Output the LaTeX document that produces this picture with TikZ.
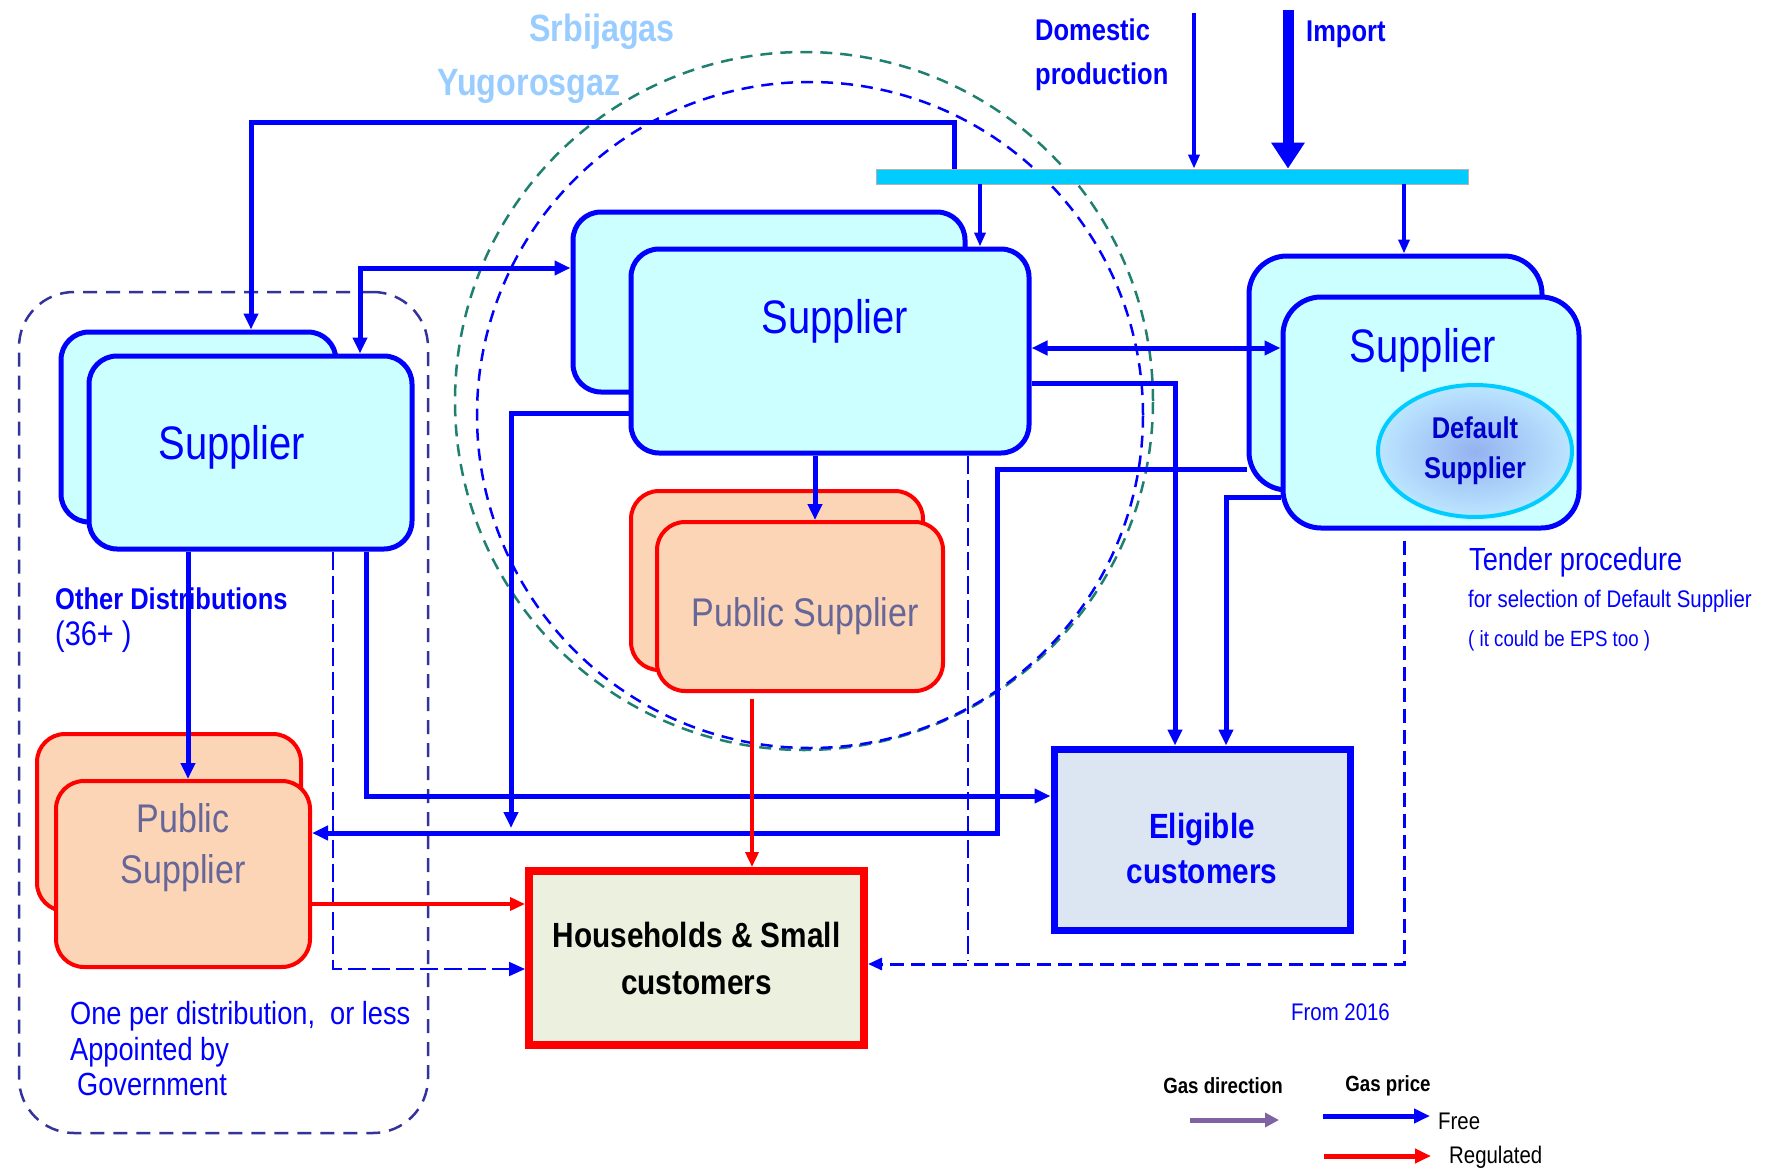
\documentclass[tikz,border=0pt]{standalone}
\usepackage{fontspec}
\setmainfont{Liberation Sans}[FakeStretch=0.85]
\usepackage{tikz}
\usetikzlibrary{arrows.meta,shapes.geometric}
\definecolor{supfill}{HTML}{CCFFFF}
\definecolor{pubfill}{HTML}{FBD5B5}
\definecolor{pubtext}{HTML}{666699}
\definecolor{hhfill}{HTML}{EBF1DE}
\definecolor{elfill}{HTML}{DCE6F2}
\definecolor{barcyan}{HTML}{00CCFF}
\definecolor{lightname}{HTML}{99CCFF}
\definecolor{framecol}{HTML}{333399}
\definecolor{ringgreen}{HTML}{1F8070}
\definecolor{legpurple}{HTML}{8064A2}
\definecolor{dsinner}{HTML}{94B2F0}
\definecolor{dsouter}{HTML}{BCE6FF}
\definecolor{dstext}{HTML}{0000CC}
\newcommand{\fsz}[2]{\fontsize{#1}{#2}\selectfont}
\tikzset{
    supbox/.style={draw=blue, line width=5pt, fill=supfill, rounded corners=28pt, inner sep=0pt},
    pubbox/.style={draw=red, line width=4pt, fill=pubfill, rounded corners=28pt, inner sep=0pt},
    suptxt/.style={text=blue, font=\fsz{47}{56}},
    pubtxt/.style={text=pubtext, font=\fsz{40}{51}, align=center},
    notetxt/.style={text=blue, anchor=west, inner sep=0pt, align=left},
    firmtxt/.style={text=lightname, font=\bfseries\fsz{38}{44}},
    gasring/.style={circle, dash pattern=on 12pt off 8pt, line width=2.5pt, inner sep=0pt},
    distframe/.style={draw=framecol, dash pattern=on 14pt off 9pt, line width=2.5pt, rounded corners=55pt, inner sep=0pt},
    freeflow/.style={draw=blue, line width=5pt, ->},
    feedline/.style={draw=blue, line width=3.5pt, -{Triangle[length=14pt,width=11pt]}},
    regflow/.style={draw=red, line width=3.5pt, -{Triangle[length=15pt,width=13pt]}},
    tenderline/.style={draw=blue, line width=3pt, dash pattern=on 14pt off 7pt, -{Triangle[length=14pt,width=12pt]}},
    dashline/.style={draw=blue, line width=2pt, dash pattern=on 18pt off 6pt},
}
\begin{document}
\begin{tikzpicture}[x=1pt, y=-1pt, >={Triangle[length=16pt,width=14pt]}]
    \useasboundingbox (0,0) rectangle (1773,1170);
    \node[distframe, minimum width=409pt, minimum height=841pt] (od) at (223.5,712.5) {};
    \node[gasring, draw=ringgreen, minimum size=698pt] (srb) at (804,401) {};
    \node[gasring, draw=blue, minimum size=666pt] (yug) at (810,415) {};
    \node[firmtxt] (srbt) at (602,32) {Srbijagas};
    \node[firmtxt] (yugt) at (529,86) {Yugorosgaz};

    \node[draw=gray!60, fill=barcyan, line width=0.8pt, minimum width=592pt, minimum height=15pt, inner sep=0pt] (bar) at (1172,176.5) {};
    \node[notetxt, font=\bfseries\fsz{30}{44}] (domt) at (1035,55) {Domestic\\production};
    \node[notetxt, font=\bfseries\fsz{30}{36}] (impt) at (1306,34) {Import};

    \node[supbox, minimum width=275pt, minimum height=190pt] (ls2) at (198.5,427) {};
    \node[supbox, minimum width=323pt, minimum height=193pt] (ls) at (250.5,452.5) {};
    \node[suptxt] (lst) at (232,447) {Supplier};
    \node[supbox, minimum width=392pt, minimum height=180pt] (ms2) at (769,302) {};
    \node[supbox, minimum width=398pt, minimum height=204pt] (ms) at (830,351) {};
    \node[suptxt] (mst) at (835,321) {Supplier};
    \node[supbox, rounded corners=38pt, minimum width=293pt, minimum height=234pt] (rs2) at (1395.5,373) {};
    \node[supbox, rounded corners=38pt, minimum width=296pt, minimum height=231pt] (rs) at (1431,412.5) {};
    \node[suptxt] (rst) at (1423,350) {Supplier};
    \node[ellipse, draw=barcyan, line width=4pt, inner color=dsinner, outer color=dsouter, minimum width=194pt, minimum height=132pt, align=center, text=dstext, font=\bfseries\fsz{30}{40}] (dsup) at (1475,451) {Default\\Supplier};

    \node[pubbox, minimum width=292pt, minimum height=179pt] (mp2) at (777,580.5) {};
    \node[pubbox, minimum width=286pt, minimum height=169pt] (mp) at (800,606.5) {};
    \node[pubtxt] (mpt) at (805,616) {Public Supplier};
    \node[pubbox, minimum width=264pt, minimum height=177pt] (lp2) at (169,822.5) {};
    \node[pubbox, minimum width=254pt, minimum height=186pt] (lp) at (183,874) {};
    \node[pubtxt] (lpt) at (183,848) {Public\\Supplier};

    \node[draw=red, line width=8pt, fill=hhfill, minimum width=335pt, minimum height=174pt, align=center, font=\bfseries\fsz{35}{47}] (hs) at (696.5,958) {Households \& Small\\customers};
    \node[draw=blue, line width=7pt, fill=elfill, minimum width=296pt, minimum height=181pt] (el) at (1202,839.5) {};
    \node[align=center, text=blue, font=\bfseries\fsz{35}{45}] (elt) at (1202,848) {Eligible\\customers};

    \node[notetxt, font=\bfseries\fsz{30}{36}] (odt) at (55,599) {Other Distributions};
    \node[notetxt, font=\fsz{34}{40}] (odn) at (55,637) {(36+ )};
    \node[notetxt, font=\fsz{32}{35.5}] (ppt) at (70,1049) {One per distribution,\ \ or less\\Appointed by\\\hspace{7pt}Government};
    \node[notetxt, font=\fsz{32}{38}] (tdt) at (1469,562) {Tender procedure};
    \node[notetxt, font=\fsz{24}{30}] (tds) at (1468,601) {for selection of Default Supplier};
    \node[notetxt, font=\fsz{22}{28}] (tde) at (1468,641) {( it could be EPS too )};
    \node[notetxt, font=\fsz{24}{30}] (frt) at (1291,1012) {From 2016};

    \coordinate (dom) at (1194,13);
    \coordinate (imp) at (1288,10);
    \coordinate (topleft) at (251,122);
    \coordinate (lsup) at (360,268);
    \coordinate (msdrop) at (511,828);
    \coordinate (pubturn) at (997,833);
    \coordinate (msdash) at (968,960);
    \draw[feedline] (dom) -- (dom |- bar.north);
    \draw[draw=blue, line width=11pt, -{Triangle[length=26pt,width=32pt]}] (imp) -- (imp |- bar.north);
    \draw[freeflow] ([xshift=-218pt]bar.north) |- (topleft) -- (topleft |- ls2.north);
    \draw[freeflow, <->] (lsup -| ms2.west) -- (lsup) -- (lsup |- ls.north);
    \draw[feedline] ([xshift=150pt]ms.north |- bar.south) -- ([xshift=150pt]ms.north);
    \draw[feedline] ([xshift=8.5pt]rs2.north |- bar.south) -- ([xshift=8.5pt]rs2.north);
    \draw[freeflow] ([xshift=-15pt]ms.south) -- ([xshift=-15pt]ms.south |- mp.north);
    \draw[freeflow, <->] ([yshift=3pt]ms.east) -- ([yshift=3pt]ms.east -| rs.west);
    \draw[freeflow] ([yshift=-32pt]ms.east) -| ([xshift=-27pt]el.north);
    \draw[freeflow] ([yshift=-84.5pt]rs.west) -| ([xshift=24pt]el.north);
    \draw[freeflow] ([yshift=-96pt]rs2.west) -| (pubturn) -- (pubturn -| lp.east);
    \draw[freeflow] ([yshift=-62pt]ms.west) -| (msdrop);
    \draw[freeflow] ([xshift=-62.5pt]ls.south) -- ([xshift=-62.5pt]ls.south |- lp.north);
    \draw[freeflow] ([xshift=115.5pt]ls.south) |- ([yshift=43.5pt]el.west);
    \draw[dashline, ->] ([xshift=82.5pt]ls.south) |- ([yshift=-11pt]hs.west);
    \draw[dashline] ([xshift=138pt]ms.south) -- (msdash);
    \draw[tenderline] ([xshift=-27pt,yshift=-10pt]rs.south) |- ([yshift=-6pt]hs.east);
    \draw[regflow] ([yshift=-30pt]lp.east) -- ([yshift=-30pt]lp.east -| hs.west);
    \draw[regflow] ([xshift=-48pt,yshift=-6pt]mp.south) -- ([xshift=-48pt]mp.south |- hs.north);

    \node[font=\bfseries\fsz{22}{26}] (gdt) at (1223,1086) {Gas direction};
    \node[font=\bfseries\fsz{22}{26}] (gpt) at (1388,1086) {Gas price};
    \node[notetxt, text=black, font=\fsz{24}{28}] (fret) at (1438,1121) {Free};
    \node[notetxt, text=black, font=\fsz{24}{28}] (regt) at (1449,1157) {Regulated};
    \coordinate (lga) at (1190,1120);
    \coordinate (lgb) at (1279,1120);
    \coordinate (lfa) at (1323,1116);
    \coordinate (lfb) at (1430,1116);
    \coordinate (lra) at (1324,1156);
    \coordinate (lrb) at (1431,1156);
    \draw[draw=legpurple, line width=5pt, -{Triangle[length=14pt,width=14pt]}] (lga) -- (lgb);
    \draw[freeflow] (lfa) -- (lfb);
    \draw[draw=red, line width=5pt, -{Triangle[length=16pt,width=14pt]}] (lra) -- (lrb);
\end{tikzpicture}
\end{document}
